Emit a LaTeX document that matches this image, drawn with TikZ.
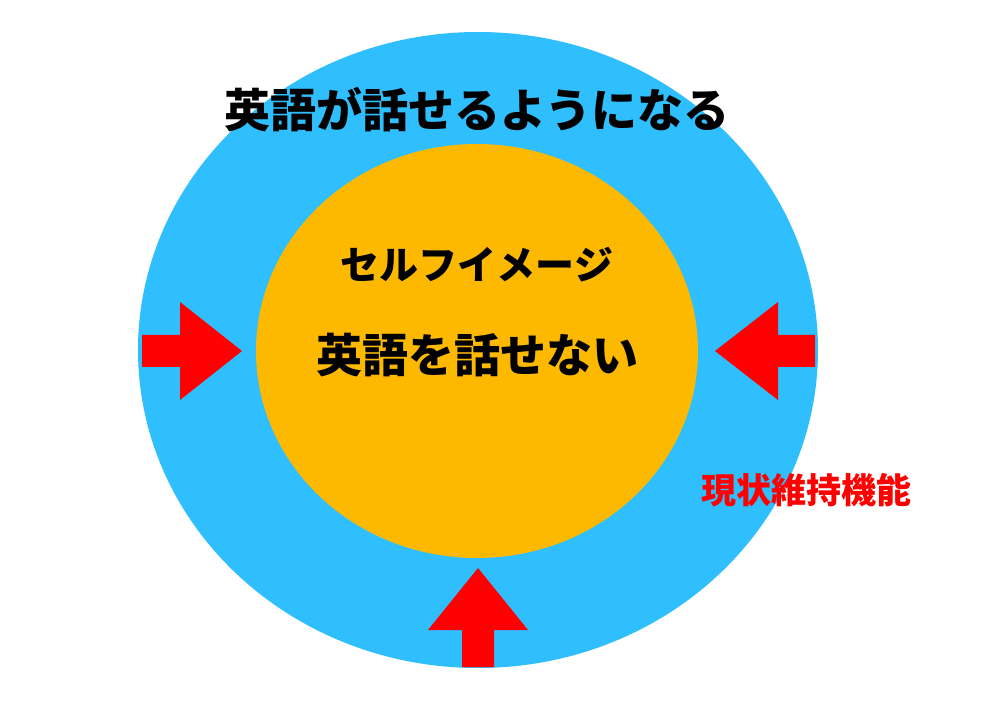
\documentclass[tikz,border=0pt]{standalone}
\usepackage{fontspec}
\newfontfamily\cjk{Noto Sans CJK JP}
\definecolor{skyb}{HTML}{2FBFFF}
\definecolor{gold}{HTML}{FDB900}
\definecolor{arr}{HTML}{FF0000}
\begin{document}
\begin{tikzpicture}[x=1pt,y=-1pt,
  lbl/.style={font=\cjk\bfseries, inner sep=0pt},
  arrowshape/.style={fill=arr, draw=none}]
\useasboundingbox (0,0) rectangle (989,714);
\fill[white] (0,0) rectangle (989,714);
\fill[skyb] (478,350) ellipse [x radius=340, y radius=318];
\fill[gold] (477,351) ellipse [x radius=221, y radius=207];
\node[lbl, font=\cjk\bfseries\fontsize{46}{50}\selectfont] (title) at (477,110) {英語が話せるようになる};
\node[lbl, font=\cjk\bfseries\fontsize{39}{44}\selectfont] (self) at (477,265) {セルフイメージ};
\node[lbl, font=\cjk\bfseries\fontsize{46}{50}\selectfont] (cant) at (477,355) {英語を話せない};
\node[lbl, text=arr, font=\cjk\bfseries\fontsize{35}{40}\selectfont] (keep) at (806,490) {現状維持機能};
% left arrow
\fill[arrowshape] (142,335) -- (180,335) -- (180,302) -- (242,351) -- (180,400) -- (180,367) -- (142,367) -- cycle;
% right arrow
\fill[arrowshape] (815,335) -- (778,335) -- (778,302) -- (715,351) -- (778,400) -- (778,367) -- (815,367) -- cycle;
% bottom arrow
\fill[arrowshape] (462,667) -- (462,630) -- (428,630) -- (478,568) -- (528,630) -- (494,630) -- (494,667) -- cycle;
\end{tikzpicture}
\end{document}
